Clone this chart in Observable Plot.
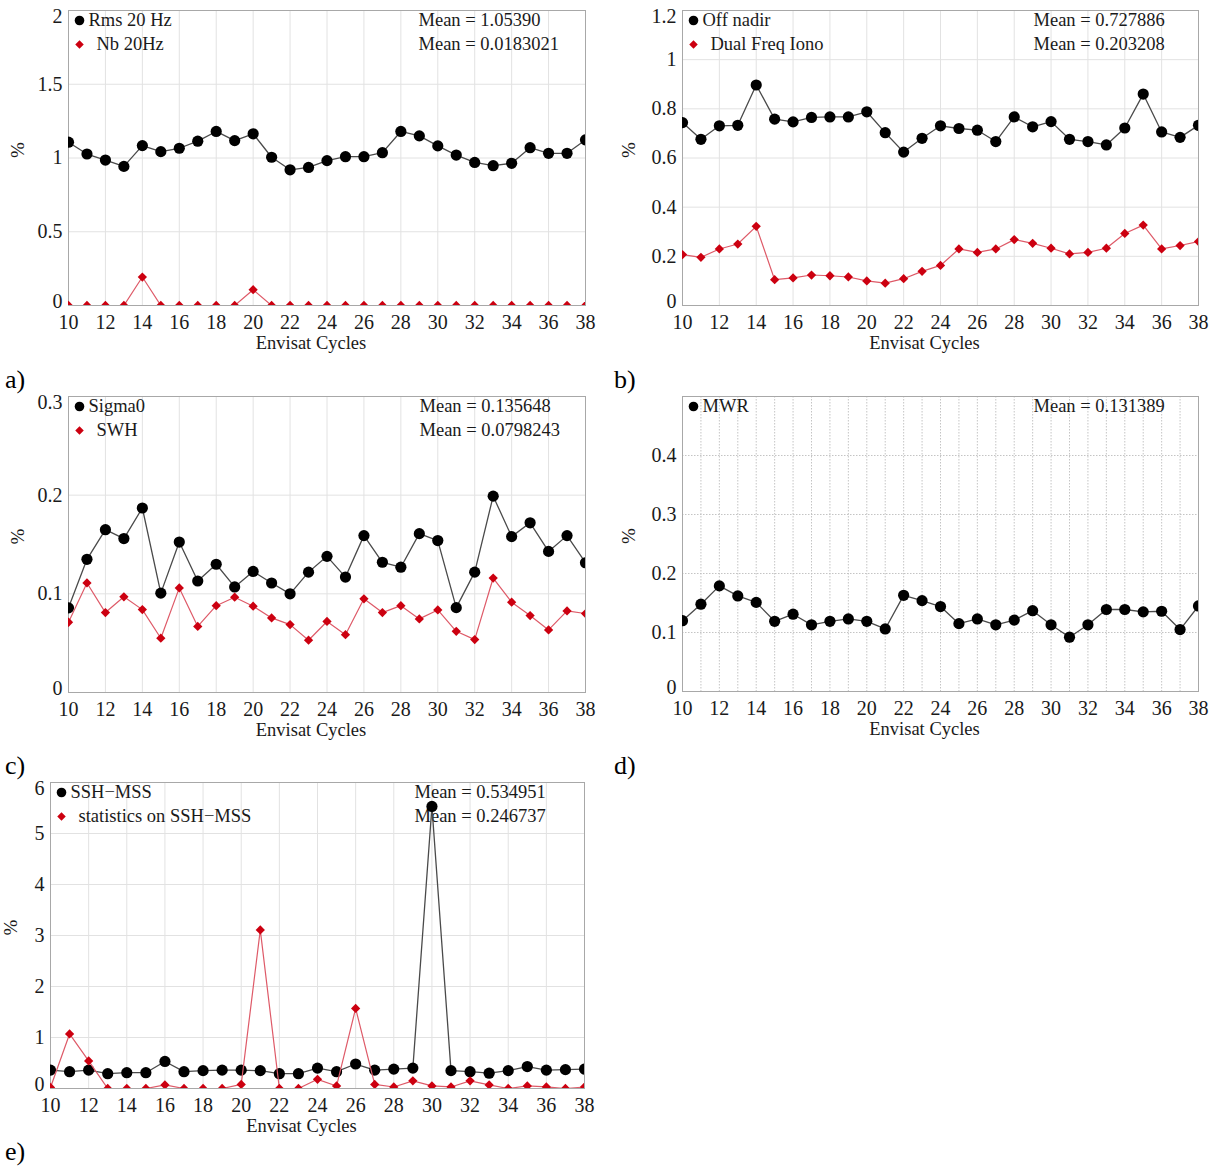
<!DOCTYPE html>
<html>
<head>
<meta charset="utf-8">
<script src="https://cdn.jsdelivr.net/npm/d3@7"></script>
<script src="https://cdn.jsdelivr.net/npm/@observablehq/plot@0.6"></script>
<style>
  html, body { margin: 0; padding: 0; background: #fff; }
  #root { position: relative; width: 1211px; height: 1174px; overflow: hidden; background: #fff; }
  .panel { position: absolute; }
  .tag { position: absolute; font-family: "Liberation Serif", serif; font-size: 26px; color: #000; line-height: 1; }
</style>
</head>
<body>
<div id="root"></div>
<script>
// ---------- data ----------
const cycles = [10,11,12,13,14,15,16,17,18,19,20,21,22,23,24,25,26,27,28,29,30,31,32,33,34,35,36,37,38];
const xTickValues = [10,12,14,16,18,20,22,24,26,28,30,32,34,36,38];
const xGridAll = [10,11,12,13,14,15,16,17,18,19,20,21,22,23,24,25,26,27,28,29,30,31,32,33,34,35,36,37,38];

// a)
const rms20 = [1.107,1.027,0.986,0.943,1.084,1.043,1.066,1.114,1.18,1.118,1.164,1.005,0.92,0.936,0.982,1.009,1.009,1.036,1.18,1.15,1.082,1.02,0.97,0.948,0.964,1.07,1.032,1.032,1.123];
const nb20 = [0,0,0,0,0.193,0,0,0,0,0,0.107,0,0,0,0,0,0,0,0,0,0,0,0,0,0,0,0,0,0];
const yTicksA = [0,0.5,1,1.5,2];

// b)
const offNadir = [0.744,0.676,0.731,0.733,0.897,0.758,0.747,0.765,0.767,0.767,0.788,0.703,0.624,0.680,0.731,0.72,0.713,0.667,0.767,0.727,0.748,0.676,0.667,0.653,0.722,0.86,0.706,0.684,0.733];
const dualIono = [0.207,0.196,0.23,0.25,0.322,0.105,0.112,0.124,0.121,0.116,0.10,0.091,0.109,0.139,0.163,0.23,0.216,0.23,0.268,0.253,0.233,0.21,0.216,0.233,0.293,0.327,0.23,0.244,0.26];
const yTicksB = [0,0.2,0.4,0.6,0.8,1,1.2];

// c)
const sigma0 = [0.0858,0.135,0.165,0.156,0.187,0.1007,0.1525,0.113,0.130,0.107,0.1227,0.111,0.100,0.122,0.138,0.117,0.159,0.132,0.127,0.161,0.154,0.086,0.122,0.199,0.158,0.172,0.143,0.159,0.1315];
const swh = [0.0712,0.111,0.081,0.097,0.084,0.055,0.106,0.067,0.088,0.0966,0.0875,0.0756,0.0688,0.053,0.072,0.0586,0.095,0.081,0.088,0.0746,0.0837,0.062,0.0536,0.116,0.0915,0.078,0.0634,0.0827,0.080];
const yTicksC = [0,0.1,0.2,0.3];

// d)
const mwr = [0.12,0.148,0.179,0.162,0.151,0.119,0.131,0.113,0.119,0.123,0.119,0.106,0.163,0.154,0.144,0.115,0.123,0.113,0.121,0.137,0.113,0.092,0.113,0.139,0.139,0.135,0.136,0.105,0.145];
const yTicksD = [0,0.1,0.2,0.3,0.4];

// e)
const sshMss = [0.36,0.33,0.36,0.29,0.31,0.31,0.53,0.33,0.35,0.36,0.36,0.35,0.29,0.29,0.40,0.33,0.48,0.36,0.38,0.40,5.53,0.35,0.33,0.30,0.35,0.43,0.36,0.37,0.38];
const statsSsh = [0.02,1.07,0.54,0,0,0,0.07,0,0,0,0.08,3.11,0,0,0.18,0.05,1.57,0.08,0.03,0.15,0.05,0.03,0.15,0.07,0,0.05,0.03,0,0.03];
const yTicksE = [0,1,2,3,4,5,6];

const xLabel = "Envisat Cycles";
const yLabel = "%";

// ---------- drawing ----------
const SERIF = "'Liberation Serif', 'Times New Roman', serif";
const BLACK_LINE = "#4a4a4a";
const RED_LINE = "#de5a68";
const RED_FILL = "#cc0010";

function rows(values) { return cycles.map((c, i) => ({cycle: c, v: values[i]})); }

function panel(cfg) {
  const {x0, y0, w, h, ml, yDomain, yTicks, black, red, meanX, dotted} = cfg;
  const mt = 10, mr = 14, mb = 62;
  const gridStyle = dotted
    ? {stroke: "#bdbdbd", strokeOpacity: 1, strokeWidth: 0.9, strokeDasharray: "1.5,1.5"}
    : {stroke: "#e2e2e2", strokeOpacity: 1, strokeWidth: 1};
  const axisText = {tickSize: 0, label: null, fontSize: 20, fontFamily: SERIF, fill: "#1a1a1a", tickFormat: d => String(d)};
  const yMid = yTicks.slice(1, -1);
  const yFirst = [yTicks[0]];
  const yLast = [yTicks[yTicks.length - 1]];
  const lastAtTop = yLast[0] === yDomain[1];
  const marks = [
    Plot.gridX(dotted ? xGridAll : xTickValues, gridStyle),
    Plot.gridY(yTicks, gridStyle),
    Plot.frame({stroke: "#a8a8a8", strokeWidth: 1}),
    Plot.axisX(xTickValues, {...axisText, tickPadding: 9}),
    Plot.axisY(yMid, {...axisText, tickPadding: 6}),
    Plot.axisY(yFirst, {...axisText, tickPadding: 6, dy: -4}),
    Plot.axisY(yLast, {...axisText, tickPadding: 6, dy: lastAtTop ? 6 : 0}),
    Plot.text([xLabel], {frameAnchor: "bottom", dy: 38, dx: -16, lineAnchor: "middle", fontSize: 18.5, fontFamily: SERIF, fill: "#1a1a1a"}),
    Plot.text([yLabel], {frameAnchor: "left", dx: cfg.yLabelDx, rotate: -90, lineAnchor: "middle", fontSize: 19, fontFamily: SERIF, fill: "#1a1a1a"})
  ];
  const legendDy = [10, 34];
  const series = [];
  if (black) series.push({...black, kind: "black"});
  if (red) series.push({...red, kind: "red"});
  series.forEach((s, i) => {
    marks.push(Plot.text([s.mean], {frameAnchor: "top-left", dx: meanX, dy: legendDy[i], textAnchor: "start", lineAnchor: "middle", fontSize: 18.5, fontFamily: SERIF, fill: "#1a1a1a"}));
  });
  series.forEach((s, i) => {
    const data = rows(s.values);
    if (s.kind === "red") {
      marks.push(Plot.line(data, {x: "cycle", y: "v", stroke: RED_LINE, strokeWidth: 1.2, clip: true}));
      marks.push(Plot.dot(data, {x: "cycle", y: "v", symbol: "square", rotate: 45, r: 3.7, fill: RED_FILL, stroke: "none", clip: true}));
      marks.push(Plot.dot([0], {frameAnchor: "top-left", dx: 11, dy: legendDy[i], symbol: "square", rotate: 45, r: 3.4, fill: RED_FILL, stroke: "none"}));
      marks.push(Plot.text([s.name], {frameAnchor: "top-left", dx: 28, dy: legendDy[i], textAnchor: "start", lineAnchor: "middle", fontSize: 18.5, fontFamily: SERIF, fill: "#1a1a1a"}));
    } else {
      marks.push(Plot.line(data, {x: "cycle", y: "v", stroke: BLACK_LINE, strokeWidth: 1.3, clip: true}));
      marks.push(Plot.dot(data, {x: "cycle", y: "v", r: 5.6, fill: "#000", stroke: "none", clip: true}));
      marks.push(Plot.dot([0], {frameAnchor: "top-left", dx: 11, dy: legendDy[i], r: 4.8, fill: "#000", stroke: "none"}));
      marks.push(Plot.text([s.name], {frameAnchor: "top-left", dx: 20, dy: legendDy[i], textAnchor: "start", lineAnchor: "middle", fontSize: 18.5, fontFamily: SERIF, fill: "#1a1a1a"}));
    }
  });
  const svg = Plot.plot({
    width: ml + w + mr,
    height: mt + h + mb,
    marginLeft: ml, marginRight: mr, marginTop: mt, marginBottom: mb,
    x: {domain: [10, 38]},
    y: {domain: yDomain},
    style: {fontFamily: SERIF, fontSize: "20px", background: "transparent", overflow: "visible", color: "#1a1a1a"},
    marks
  });
  svg.classList.add("panel");
  svg.style.left = (x0 - ml) + "px";
  svg.style.top = (y0 - mt) + "px";
  return svg;
}

const root = document.getElementById("root");

root.appendChild(panel({
  x0: 68, y0: 10, w: 517, h: 295, ml: 68, yLabelDx: -51,
  yDomain: [0, 2], yTicks: yTicksA, meanX: 350,
  black: {name: "Rms 20 Hz", values: rms20, mean: "Mean = 1.05390"},
  red: {name: "Nb 20Hz", values: nb20, mean: "Mean = 0.0183021"}
}));
root.appendChild(panel({
  x0: 682, y0: 10, w: 516, h: 295, ml: 68, yLabelDx: -54,
  yDomain: [0, 1.2], yTicks: yTicksB, meanX: 351,
  black: {name: "Off nadir", values: offNadir, mean: "Mean = 0.727886"},
  red: {name: "Dual Freq Iono", values: dualIono, mean: "Mean = 0.203208"}
}));
root.appendChild(panel({
  x0: 68, y0: 396, w: 517, h: 296, ml: 68, yLabelDx: -51,
  yDomain: [0, 0.3], yTicks: yTicksC, meanX: 351,
  black: {name: "Sigma0", values: sigma0, mean: "Mean = 0.135648"},
  red: {name: "SWH", values: swh, mean: "Mean = 0.0798243"}
}));
root.appendChild(panel({
  x0: 682, y0: 396, w: 516, h: 295, ml: 68, yLabelDx: -54, dotted: true,
  yDomain: [0, 0.5], yTicks: yTicksD, meanX: 351,
  black: {name: "MWR", values: mwr, mean: "Mean = 0.131389"}
}));
root.appendChild(panel({
  x0: 50, y0: 782, w: 534, h: 306, ml: 50, yLabelDx: -40,
  yDomain: [0, 6], yTicks: yTicksE, meanX: 364,
  black: {name: "SSH\u2212MSS", values: sshMss, mean: "Mean = 0.534951"},
  red: {name: "statistics on SSH\u2212MSS", values: statsSsh, mean: "Mean = 0.246737"}
}));

const tags = [["a)", 5, 367], ["b)", 614, 367], ["c)", 5, 753], ["d)", 614, 753], ["e)", 5, 1139]];
tags.forEach(([t, x, y]) => {
  const d = document.createElement("div");
  d.className = "tag";
  d.textContent = t;
  d.style.left = x + "px";
  d.style.top = y + "px";
  root.appendChild(d);
});
</script>
</body>
</html>
